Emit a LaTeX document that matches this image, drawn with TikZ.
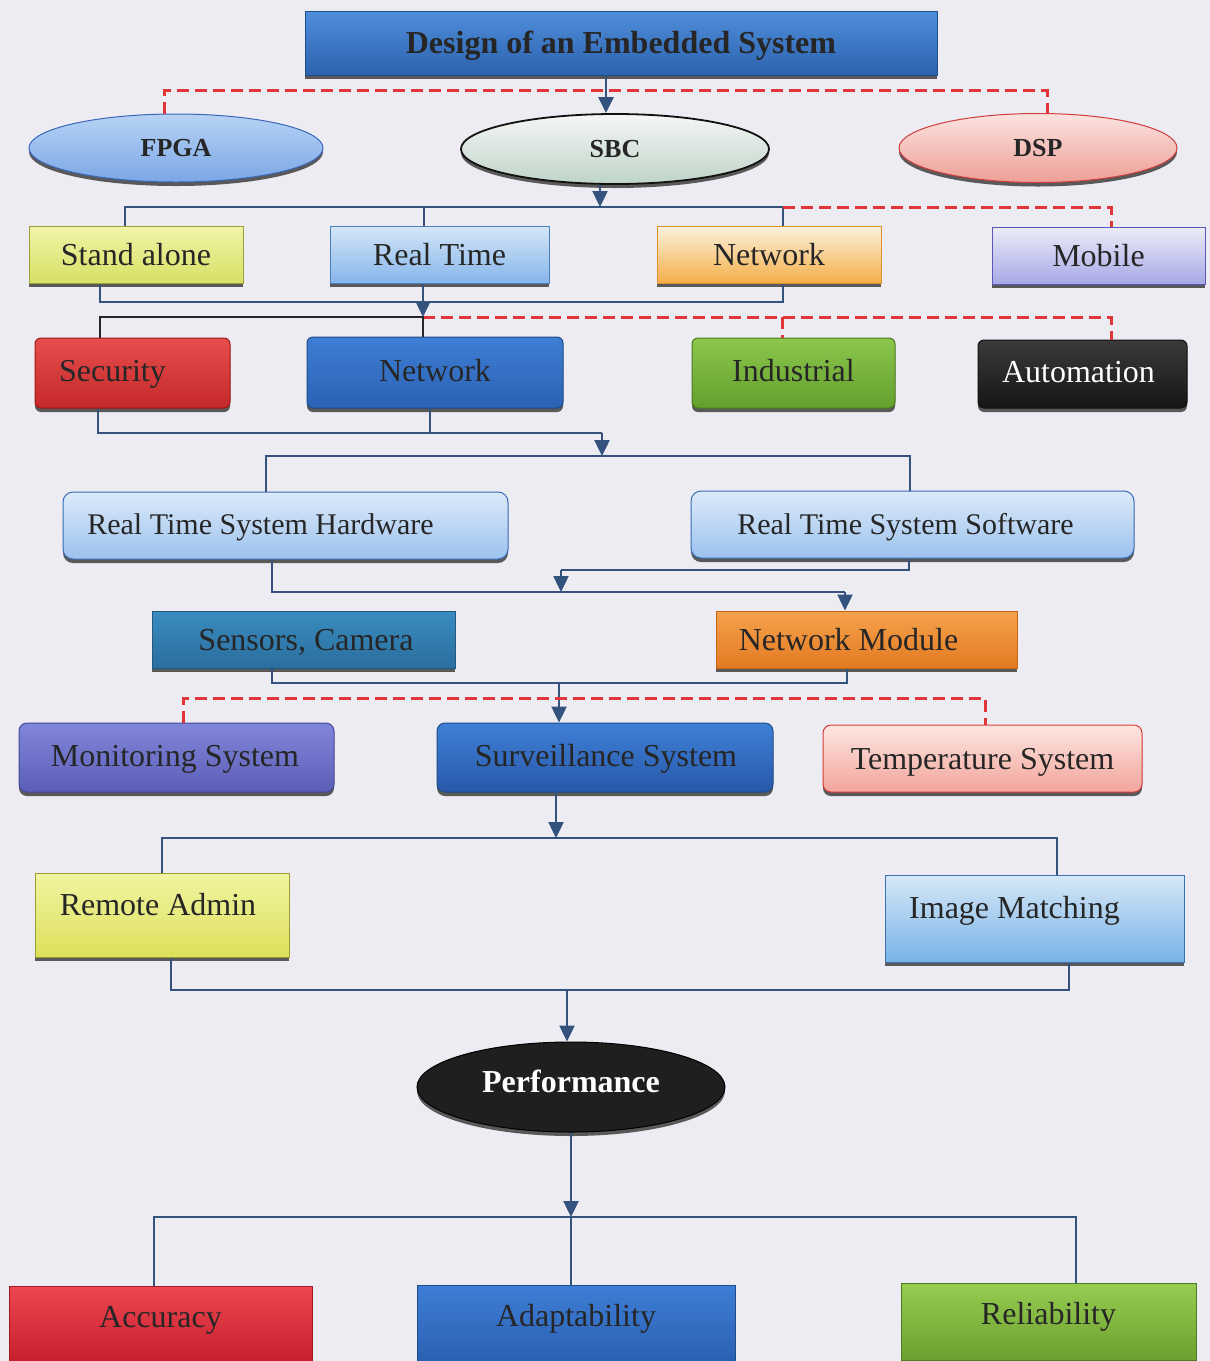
\documentclass[tikz,border=0pt]{standalone}
\usepackage{fontspec}
\setmainfont{Liberation Serif}
\usetikzlibrary{shapes.geometric,shadows,arrows.meta}
\definecolor{bg}{HTML}{ECECF2}
\definecolor{ln}{HTML}{34527E}
\definecolor{rd}{HTML}{E0363A}
\definecolor{txt}{HTML}{262626}
% node colours: top / bottom / border
\definecolor{titT}{HTML}{4F8EDB}\definecolor{titB}{HTML}{2C62AE}\definecolor{titD}{HTML}{1F4C8A}
\definecolor{fpgT}{HTML}{B7D3F5}\definecolor{fpgB}{HTML}{7BA7E6}\definecolor{fpgD}{HTML}{3A66B8}
\definecolor{sbcT}{HTML}{F4F6F6}\definecolor{sbcB}{HTML}{BFD4C8}\definecolor{sbcD}{HTML}{111111}
\definecolor{dspT}{HTML}{FBE4E0}\definecolor{dspB}{HTML}{EE9E96}\definecolor{dspD}{HTML}{D03C3C}
\definecolor{staT}{HTML}{F0F4A8}\definecolor{staB}{HTML}{D8E064}\definecolor{staD}{HTML}{9AA038}
\definecolor{rtiT}{HTML}{D4E6F8}\definecolor{rtiB}{HTML}{86B6EA}\definecolor{rtiD}{HTML}{4A7EC0}
\definecolor{neoT}{HTML}{FCF2DE}\definecolor{neoB}{HTML}{F4AE48}\definecolor{neoD}{HTML}{E0902A}
\definecolor{mobT}{HTML}{ECECF8}\definecolor{mobB}{HTML}{A6A8E6}\definecolor{mobD}{HTML}{5858B8}
\definecolor{secT}{HTML}{E84E4E}\definecolor{secB}{HTML}{C42828}\definecolor{secD}{HTML}{A01818}
\definecolor{nebT}{HTML}{3E7ED4}\definecolor{nebB}{HTML}{2A62B4}\definecolor{nebD}{HTML}{1F4C8A}
\definecolor{indT}{HTML}{8CC64C}\definecolor{indB}{HTML}{62A02E}\definecolor{indD}{HTML}{4A7A20}
\definecolor{autT}{HTML}{3A3A3A}\definecolor{autB}{HTML}{161616}\definecolor{autD}{HTML}{111111}
\definecolor{rtsT}{HTML}{DCEAF9}\definecolor{rtsB}{HTML}{9CC2EE}\definecolor{rtsD}{HTML}{3A6CB5}
\definecolor{senT}{HTML}{3A8CC0}\definecolor{senB}{HTML}{2A6E9E}\definecolor{senD}{HTML}{235A82}
\definecolor{nmoT}{HTML}{F6A24C}\definecolor{nmoB}{HTML}{E27A22}\definecolor{nmoD}{HTML}{C86414}
\definecolor{monT}{HTML}{8286DA}\definecolor{monB}{HTML}{5A5EB6}\definecolor{monD}{HTML}{44489A}
\definecolor{surT}{HTML}{3E80D6}\definecolor{surB}{HTML}{2858AA}\definecolor{surD}{HTML}{1F4C8A}
\definecolor{temT}{HTML}{FDE6E0}\definecolor{temB}{HTML}{F2A49C}\definecolor{temD}{HTML}{D83A3A}
\definecolor{radT}{HTML}{F2F4A2}\definecolor{radB}{HTML}{DCE05A}\definecolor{radD}{HTML}{9A9E30}
\definecolor{imgT}{HTML}{D6E8F8}\definecolor{imgB}{HTML}{78B2E6}\definecolor{imgD}{HTML}{3A72B0}
\definecolor{accT}{HTML}{EC4650}\definecolor{accB}{HTML}{C8202E}\definecolor{accD}{HTML}{A01820}
\definecolor{adaT}{HTML}{3E7ED6}\definecolor{adaB}{HTML}{2A60B2}\definecolor{adaD}{HTML}{1F4C8A}
\definecolor{relT}{HTML}{96CC50}\definecolor{relB}{HTML}{6CA030}\definecolor{relD}{HTML}{4E7C22}
\newcommand\lbl[3]{\raisebox{\dimexpr #2-0.33em\relax}[0pt][0pt]{\makebox[0pt]{\hspace*{#1}#3}}}

\begin{document}
\begin{tikzpicture}[x=1pt,y=-1pt,
  box/.style={draw, line width=1pt, inner sep=0pt, text=txt,
    font=\fontsize{32}{38}\selectfont,
    general shadow={fill=black!65, shadow yshift=-4pt}},
  sz/.style 2 args={minimum width=#1pt, minimum height=#2pt},
  col/.style={top color=#1T, bottom color=#1B, draw=#1D},
  ell/.style={box, ellipse, font=\bfseries\fontsize{26}{30}\selectfont},
  conn/.style={draw=ln, line width=2.4pt},
  arr/.style={conn, -{Triangle[length=16pt,width=15pt]}},
  rdash/.style={draw=rd, line width=3pt, dash pattern=on 12pt off 6pt},
]
\useasboundingbox (0,0) rectangle (1210,1361);
\fill[bg] (0,0) rectangle (1210,1361);

% ---------- nodes ----------
\node[box, col=tit, sz={632}{64}, font=\bfseries\fontsize{32}{38}\selectfont] (title) at (621,43) {\lbl{0pt}{0pt}{Design of an Embedded System}};

\node[ell, col=fpg, sz={294}{68}] (fpga) at (176,148) {\lbl{0pt}{0pt}{FPGA}};
\node[ell, col=sbc, sz={308}{70}, line width=1.8pt] (sbc) at (615,149) {\lbl{0pt}{0pt}{SBC}};
\node[ell, col=dsp, sz={278}{69}] (dsp) at (1038,148) {\lbl{0pt}{0pt}{DSP}};

\node[box, col=sta, sz={214}{57}] (stand) at (136,254.5) {\lbl{0pt}{0pt}{Stand alone}};
\node[box, col=rti, sz={219}{57}] (rt) at (439.5,254.5) {\lbl{0pt}{0pt}{Real Time}};
\node[box, col=neo, sz={224}{57}] (net1) at (769,254.5) {\lbl{0pt}{0pt}{Network}};
\node[box, col=mob, sz={213}{57}] (mobile) at (1098.5,255.5) {\lbl{0pt}{0pt}{Mobile}};

\node[box, col=sec, sz={195}{70}, rounded corners=6pt] (sec) at (132.5,373) {\lbl{-40pt}{2pt}{Security}};
\node[box, col=neb, sz={256}{71}, rounded corners=6pt] (net2) at (435,372.5) {\lbl{0pt}{2pt}{Network}};
\node[box, col=ind, sz={203}{70}, rounded corners=6pt] (ind) at (793.5,373) {\lbl{0pt}{2pt}{Industrial}};
\node[box, col=aut, sz={209}{68}, rounded corners=6pt, text=white] (auto) at (1082.5,374) {\lbl{-8pt}{2pt}{Automation}};

\node[box, col=rts, sz={445}{67}, rounded corners=10pt, font=\fontsize{30}{36}\selectfont] (rtsh) at (285.5,525.5) {\lbl{-50pt}{1pt}{Real Time System Hardware}};
\node[box, col=rts, sz={443}{67}, rounded corners=10pt, font=\fontsize{30}{36}\selectfont] (rtss) at (912.5,524.5) {\lbl{-14pt}{0pt}{Real Time System Software}};

\node[box, col=sen, sz={303}{57}] (sens) at (303.5,639.5) {\lbl{5pt}{0pt}{Sensors, Camera}};
\node[box, col=nmo, sz={301}{57}] (netm) at (866.5,639.5) {\lbl{-36pt}{0pt}{Network Module}};

\node[box, col=mon, sz={315}{69}, rounded corners=8pt] (mon) at (176.5,757.5) {\lbl{-3pt}{2pt}{Monitoring System}};
\node[box, col=sur, sz={336}{69}, rounded corners=8pt] (surv) at (605,757.5) {\lbl{2pt}{2pt}{Surveillance System}};
\node[box, col=tem, sz={319}{67}, rounded corners=8pt] (temp) at (982.5,758.5) {\lbl{0pt}{0pt}{Temperature System}};

\node[box, col=rad, sz={254}{84}] (radm) at (162,915) {\lbl{-8pt}{10pt}{Remote Admin}};
\node[box, col=img, sz={299}{87}] (imgm) at (1034.5,918.5) {\lbl{-40pt}{11pt}{Image Matching}};

\node[ell, sz={308}{90}, fill=black!88, draw=black, text=white, font=\bfseries\fontsize{32}{38}\selectfont] (perf) at (571,1087) {\lbl{0pt}{5pt}{Performance}};

\node[box, col=acc, sz={303}{75}] (acc) at (160.5,1323.5) {\lbl{0pt}{7pt}{Accuracy}};
\node[box, col=ada, sz={318}{76}] (adap) at (576,1323) {\lbl{0pt}{7pt}{Adaptability}};
\node[box, col=rel, sz={295}{77}] (rel) at (1048.5,1321.5) {\lbl{0pt}{8pt}{Reliability}};

% ---------- connectors ----------
\draw[arr] ([xshift=-15pt]title.south) -- ([xshift=-15pt]title.south |- sbc.north);
\draw[rdash] ([xshift=-12pt]fpga.north) -- ++(0,-23) -| ([xshift=9pt]dsp.north);

\coordinate (b1) at (600,207);
\coordinate (b1L) at (125,207); \coordinate (b1M) at (424,207);
\coordinate (b1R) at (783,207); \coordinate (b1D) at (1111,207);
\draw[arr] (b1 |- sbc.south) -- (b1);
\draw[conn] (b1L |- stand.north) -- (b1L) -- (b1R) -- (b1R |- net1.north);
\draw[conn] (b1M) -- (b1M |- rt.north);
\draw[rdash] (b1R) -- (b1D) -- (b1D |- mobile.north);

\coordinate (b2L) at (100,302); \coordinate (b2R) at (783,302);
\draw[conn] (b2L |- stand.south) -- (b2L) -- (b2R) -- (b2R |- net1.south);
\coordinate (b3M) at (423,317); \coordinate (b3L) at (100,317);
\coordinate (r3M) at (423,317); \coordinate (r3I) at (782,317); \coordinate (r3A) at (1111,317);
\draw[rdash] (r3M) -- (r3A) -- (r3A |- auto.north);
\draw[rdash] (r3I) -- (r3I |- ind.north);
\draw[conn, draw=black!85] (b3L |- sec.north) -- (b3L) -- (b3M) -- (b3M |- net2.north);
\draw[arr] (b3M |- rt.south) -- (b3M);

\coordinate (b4L) at (98,433); \coordinate (b4R) at (430,433);
\coordinate (b4A) at (602,433); \coordinate (b4T) at (602,456);
\draw[conn] (b4L |- sec.south) -- (b4L) -- (b4A);
\draw[conn] (b4R |- net2.south) -- (b4R);
\draw[arr] (b4A) -- (b4T);
\coordinate (b5L) at (266,456); \coordinate (b5R) at (910,456);
\draw[conn] (b5L |- rtsh.north) -- (b5L) -- (b5R) -- (b5R |- rtss.north);

\coordinate (c1) at (909,570); \coordinate (c2) at (561,570); \coordinate (c3) at (561,592);
\draw[conn] (c1 |- rtss.south) -- (c1) -- (c2);
\draw[arr] (c2) -- (c3);
\coordinate (c4) at (272,592); \coordinate (c5) at (845,592);
\draw[conn] (c4 |- rtsh.south) -- (c4) -- (c5);
\draw[arr] (c5) -- (c5 |- netm.north);

\coordinate (d1) at (272,683); \coordinate (d2) at (847,683); \coordinate (d3) at (559,683);
\draw[conn] (d1 |- sens.south) -- (d1) -- (d2) -- (d2 |- netm.south);
\draw[arr] (d3) -- (d3 |- surv.north);
\coordinate (r5L) at (183,698); \coordinate (r5R) at (985,698);
\draw[rdash] (r5L |- mon.north) -- (r5L) -- (r5R) -- (r5R |- temp.north);

\coordinate (e1) at (556,838); \coordinate (e2) at (162,838); \coordinate (e3) at (1057,838);
\draw[arr] (e1 |- surv.south) -- (e1);
\draw[conn] (e2 |- radm.north) -- (e2) -- (e3) -- (e3 |- imgm.north);

\coordinate (f1) at (171,990); \coordinate (f2) at (1069,990); \coordinate (f3) at (567,990);
\draw[conn] (f1 |- radm.south) -- (f1) -- (f2) -- (f2 |- imgm.south);
\draw[arr] (f3) -- (f3 |- perf.north);

\coordinate (g1) at (571,1217); \coordinate (g2) at (154,1217); \coordinate (g3) at (1076,1217);
\draw[arr] (perf.south) -- (g1);
\draw[conn] (g2 |- acc.north) -- (g2) -- (g3) -- (g3 |- rel.north);
\draw[conn] (g1) -- (g1 |- adap.north);
\end{tikzpicture}
\end{document}
